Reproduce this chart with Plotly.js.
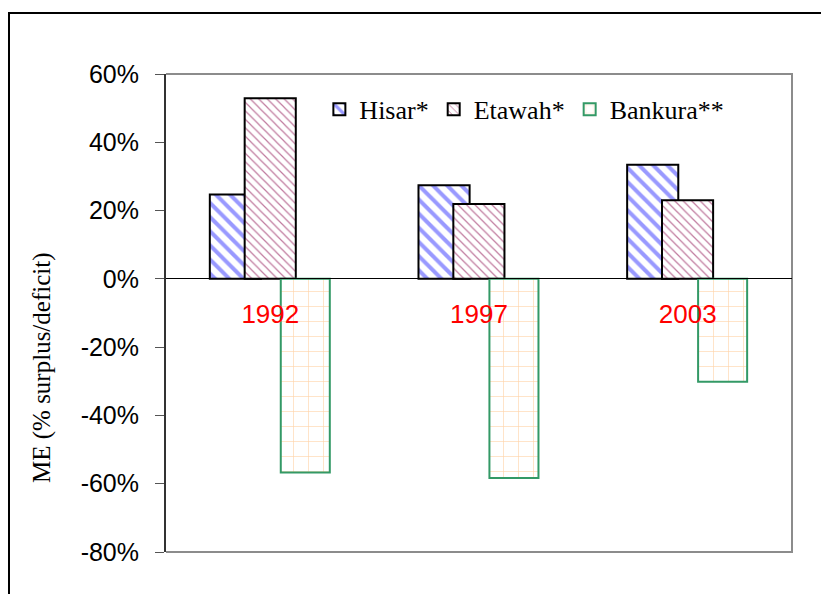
<!DOCTYPE html>
<html>
<head>
<meta charset="utf-8">
<script src="https://cdn.plot.ly/plotly-3.0.1.min.js"></script>
<style>html,body{margin:0;padding:0;background:#fff;}#chart{width:821px;height:594px;}</style>
</head>
<body>
<div id="chart"></div>
<script>
// Data
var years = ['1992', '1997', '2003'];
var hisar = [0.247, 0.274, 0.334];
var etawah = [0.529, 0.219, 0.230];
var bankura = [-0.567, -0.583, -0.301];
var seriesNames = ['Hisar*', 'Etawah*', 'Bankura**'];
var yTickVals = [-0.8, -0.6, -0.4, -0.2, 0, 0.2, 0.4, 0.6];
var yTickLabels = ['-80%', '-60%', '-40%', '-20%', '0%', '20%', '40%', '60%'];

var xpos = years.map(function (_, i) { return i; });

var traces = [
  {
    type: 'bar', name: seriesNames[0], x: xpos, y: hisar,
    width: 0.245, offset: -0.29,
    marker: {
      color: 'white',
      line: { color: 'black', width: 2 },
      pattern: { shape: '\\', fgcolor: '#9999ff', bgcolor: 'white', size: 10, solidity: 0.4 }
    },
    hoverinfo: 'skip'
  },
  {
    type: 'bar', name: seriesNames[1], x: xpos, y: etawah,
    width: 0.245, offset: -0.123,
    marker: {
      color: 'white',
      line: { color: 'black', width: 2 },
      pattern: { shape: '\\', fgcolor: '#c07a9e', bgcolor: 'white', size: 6, solidity: 0.2 }
    },
    hoverinfo: 'skip'
  },
  {
    type: 'bar', name: seriesNames[2], x: xpos, y: bankura,
    width: 0.235, offset: 0.05,
    marker: {
      color: 'white',
      line: { color: '#339966', width: 2 },
      pattern: { shape: '+', fgcolor: '#ffd2a6', bgcolor: 'white', size: 15, solidity: 0.08 }
    },
    hoverinfo: 'skip'
  }
];

var layout = {
  width: 821, height: 594,
  margin: { l: 166, r: 29, t: 74, b: 42 },
  paper_bgcolor: 'white', plot_bgcolor: 'white',
  barmode: 'overlay',
  showlegend: true,
  legend: {
    orientation: 'h', x: 0.245, y: 0.975, xanchor: 'left', yanchor: 'top',
    bgcolor: 'rgba(0,0,0,0)',
    font: { family: 'Liberation Serif, Times New Roman, serif', size: 26, color: 'black' },
    itemwidth: 30, traceorder: 'normal'
  },
  xaxis: {
    range: [-0.5, 2.5],
    tickvals: xpos, ticktext: years,
    anchor: 'free', position: 0.5732,
    showline: true, linecolor: 'black', linewidth: 1,
    ticks: '', showgrid: false, zeroline: false,
    tickfont: { family: 'Liberation Sans, Arial, sans-serif', size: 26, color: '#ff0000' },
    ticklabelstandoff: 13,
    fixedrange: true
  },
  yaxis: {
    range: [-0.8, 0.6],
    tickvals: yTickVals, ticktext: yTickLabels,
    showline: true, linecolor: '#333333', linewidth: 2,
    ticks: 'outside', ticklen: 9, tickcolor: '#555555', tickwidth: 1,
    showgrid: false, zeroline: false,
    tickfont: { family: 'Liberation Sans, Arial, sans-serif', size: 25, color: 'black' },
    ticklabelstandoff: 11,
    fixedrange: true
  },
  shapes: [
    { type: 'path', xref: 'paper', yref: 'paper', path: 'M0,1 L1,1 L1,0 L0,0',
      line: { color: '#8c8c8c', width: 2 }, layer: 'below' },
    { type: 'path', xref: 'paper', yref: 'paper', path: 'M-0.2508,-0.2 L-0.2508,1.1276 L1.2,1.1276',
      line: { color: 'black', width: 2 } }
  ],
  annotations: [
    { text: 'ME (% surplus/deficit)', xref: 'paper', yref: 'paper', x: -0.198, y: 0.385,
      textangle: -90, showarrow: false, xanchor: 'center', yanchor: 'middle',
      font: { family: 'Liberation Serif, Times New Roman, serif', size: 25, color: 'black' } }
  ]
};

Plotly.newPlot('chart', traces, layout, { staticPlot: true, displayModeBar: false });
</script>
</body>
</html>
